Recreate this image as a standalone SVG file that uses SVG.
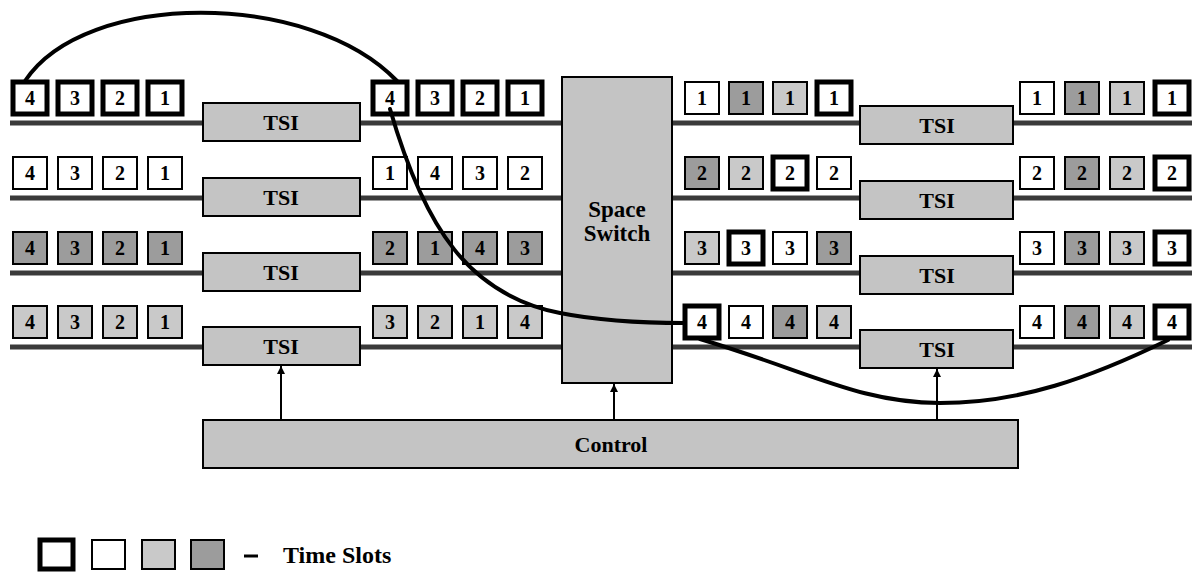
<svg xmlns="http://www.w3.org/2000/svg" width="1192" height="581" viewBox="0 0 1192 581">
<style>
.thick{fill:#fff;stroke:#000;stroke-width:5}
.thin{fill:#fff;stroke:#000;stroke-width:2}
.lt{fill:#c9c9c9;stroke:#000;stroke-width:2}
.dk{fill:#9c9c9c;stroke:#000;stroke-width:2}
.dg{font-family:"Liberation Serif",serif;font-weight:bold;font-size:20px;text-anchor:middle;fill:#000}
.blk{fill:#c4c4c4;stroke:#000;stroke-width:2}
.lbl{font-family:"Liberation Serif",serif;font-weight:bold;font-size:22px;text-anchor:middle;fill:#000}
.bus{stroke:#3a3a3a;stroke-width:5}
.cv{fill:none;stroke:#000;stroke-width:4;stroke-linecap:round}
.ctl{stroke:#000;stroke-width:2;marker-end:url(#ah)}
</style>
<defs>
<marker id="ah" markerUnits="userSpaceOnUse" markerWidth="8" markerHeight="10" refX="8" refY="4" orient="auto">
<path d="M0,0 L8,4 L0,8 Z" fill="#000"/>
</marker>
</defs>
<rect width="1192" height="581" fill="#fff"/>
<g id="buses">
<line class="bus" x1="10" y1="123" x2="1192" y2="123"/>
<line class="bus" x1="10" y1="198" x2="1192" y2="198"/>
<line class="bus" x1="10" y1="273" x2="1192" y2="273"/>
<line class="bus" x1="10" y1="347" x2="1192" y2="347"/>
</g>
<g id="tsi-l1"><rect class="blk" x="203" y="103" width="157" height="38"/><text class="lbl" x="281" y="130">TSI</text></g>
<g id="tsi-l2"><rect class="blk" x="203" y="178" width="157" height="38"/><text class="lbl" x="281" y="205">TSI</text></g>
<g id="tsi-l3"><rect class="blk" x="203" y="253" width="157" height="38"/><text class="lbl" x="281" y="280">TSI</text></g>
<g id="tsi-l4"><rect class="blk" x="203" y="327" width="157" height="38"/><text class="lbl" x="281" y="354">TSI</text></g>
<g id="tsi-r1"><rect class="blk" x="860" y="106" width="153" height="38"/><text class="lbl" x="937" y="133">TSI</text></g>
<g id="tsi-r2"><rect class="blk" x="860" y="181" width="153" height="38"/><text class="lbl" x="937" y="208">TSI</text></g>
<g id="tsi-r3"><rect class="blk" x="860" y="256" width="153" height="38"/><text class="lbl" x="937" y="283">TSI</text></g>
<g id="tsi-r4"><rect class="blk" x="860" y="330" width="153" height="38"/><text class="lbl" x="937" y="357">TSI</text></g>
<g id="space-switch"><rect class="blk" x="562" y="77" width="110" height="306"/><text class="lbl" x="617" y="217" style="font-size:23px">Space</text><text class="lbl" x="617" y="241" style="font-size:23px">Switch</text></g>
<g id="control"><rect class="blk" x="203" y="420" width="815" height="48"/><text class="lbl" x="611" y="452">Control</text></g>

<g id="slots-row1">
<rect class="thick" x="13" y="82" width="34" height="32"/><text class="dg" x="30" y="105">4</text>
<rect class="thick" x="58" y="82" width="34" height="32"/><text class="dg" x="75" y="105">3</text>
<rect class="thick" x="103" y="82" width="34" height="32"/><text class="dg" x="120" y="105">2</text>
<rect class="thick" x="148" y="82" width="34" height="32"/><text class="dg" x="165" y="105">1</text>
<rect class="thick" x="373" y="82" width="34" height="32"/><text class="dg" x="390" y="105">4</text>
<rect class="thick" x="418" y="82" width="34" height="32"/><text class="dg" x="435" y="105">3</text>
<rect class="thick" x="463" y="82" width="34" height="32"/><text class="dg" x="480" y="105">2</text>
<rect class="thick" x="508" y="82" width="34" height="32"/><text class="dg" x="525" y="105">1</text>
<rect class="thin" x="685" y="82" width="34" height="32"/><text class="dg" x="702" y="105">1</text>
<rect class="dk" x="729" y="82" width="34" height="32"/><text class="dg" x="746" y="105">1</text>
<rect class="lt" x="773" y="82" width="34" height="32"/><text class="dg" x="790" y="105">1</text>
<rect class="thick" x="817" y="82" width="34" height="32"/><text class="dg" x="834" y="105">1</text>
<rect class="thin" x="1020" y="82" width="34" height="32"/><text class="dg" x="1037" y="105">1</text>
<rect class="dk" x="1065" y="82" width="34" height="32"/><text class="dg" x="1082" y="105">1</text>
<rect class="lt" x="1110" y="82" width="34" height="32"/><text class="dg" x="1127" y="105">1</text>
<rect class="thick" x="1155" y="82" width="34" height="32"/><text class="dg" x="1172" y="105">1</text>
</g>
<g id="slots-row2">
<rect class="thin" x="13" y="157" width="34" height="32"/><text class="dg" x="30" y="180">4</text>
<rect class="thin" x="58" y="157" width="34" height="32"/><text class="dg" x="75" y="180">3</text>
<rect class="thin" x="103" y="157" width="34" height="32"/><text class="dg" x="120" y="180">2</text>
<rect class="thin" x="148" y="157" width="34" height="32"/><text class="dg" x="165" y="180">1</text>
<rect class="thin" x="373" y="157" width="34" height="32"/><text class="dg" x="390" y="180">1</text>
<rect class="thin" x="418" y="157" width="34" height="32"/><text class="dg" x="435" y="180">4</text>
<rect class="thin" x="463" y="157" width="34" height="32"/><text class="dg" x="480" y="180">3</text>
<rect class="thin" x="508" y="157" width="34" height="32"/><text class="dg" x="525" y="180">2</text>
<rect class="dk" x="685" y="157" width="34" height="32"/><text class="dg" x="702" y="180">2</text>
<rect class="lt" x="729" y="157" width="34" height="32"/><text class="dg" x="746" y="180">2</text>
<rect class="thick" x="773" y="157" width="34" height="32"/><text class="dg" x="790" y="180">2</text>
<rect class="thin" x="817" y="157" width="34" height="32"/><text class="dg" x="834" y="180">2</text>
<rect class="thin" x="1020" y="157" width="34" height="32"/><text class="dg" x="1037" y="180">2</text>
<rect class="dk" x="1065" y="157" width="34" height="32"/><text class="dg" x="1082" y="180">2</text>
<rect class="lt" x="1110" y="157" width="34" height="32"/><text class="dg" x="1127" y="180">2</text>
<rect class="thick" x="1155" y="157" width="34" height="32"/><text class="dg" x="1172" y="180">2</text>
</g>
<g id="slots-row3">
<rect class="dk" x="13" y="232" width="34" height="32"/><text class="dg" x="30" y="255">4</text>
<rect class="dk" x="58" y="232" width="34" height="32"/><text class="dg" x="75" y="255">3</text>
<rect class="dk" x="103" y="232" width="34" height="32"/><text class="dg" x="120" y="255">2</text>
<rect class="dk" x="148" y="232" width="34" height="32"/><text class="dg" x="165" y="255">1</text>
<rect class="dk" x="373" y="232" width="34" height="32"/><text class="dg" x="390" y="255">2</text>
<rect class="dk" x="418" y="232" width="34" height="32"/><text class="dg" x="435" y="255">1</text>
<rect class="dk" x="463" y="232" width="34" height="32"/><text class="dg" x="480" y="255">4</text>
<rect class="dk" x="508" y="232" width="34" height="32"/><text class="dg" x="525" y="255">3</text>
<rect class="lt" x="685" y="232" width="34" height="32"/><text class="dg" x="702" y="255">3</text>
<rect class="thick" x="729" y="232" width="34" height="32"/><text class="dg" x="746" y="255">3</text>
<rect class="thin" x="773" y="232" width="34" height="32"/><text class="dg" x="790" y="255">3</text>
<rect class="dk" x="817" y="232" width="34" height="32"/><text class="dg" x="834" y="255">3</text>
<rect class="thin" x="1020" y="232" width="34" height="32"/><text class="dg" x="1037" y="255">3</text>
<rect class="dk" x="1065" y="232" width="34" height="32"/><text class="dg" x="1082" y="255">3</text>
<rect class="lt" x="1110" y="232" width="34" height="32"/><text class="dg" x="1127" y="255">3</text>
<rect class="thick" x="1155" y="232" width="34" height="32"/><text class="dg" x="1172" y="255">3</text>
</g>
<g id="slots-row4">
<rect class="lt" x="13" y="306" width="34" height="32"/><text class="dg" x="30" y="329">4</text>
<rect class="lt" x="58" y="306" width="34" height="32"/><text class="dg" x="75" y="329">3</text>
<rect class="lt" x="103" y="306" width="34" height="32"/><text class="dg" x="120" y="329">2</text>
<rect class="lt" x="148" y="306" width="34" height="32"/><text class="dg" x="165" y="329">1</text>
<rect class="lt" x="373" y="306" width="34" height="32"/><text class="dg" x="390" y="329">3</text>
<rect class="lt" x="418" y="306" width="34" height="32"/><text class="dg" x="435" y="329">2</text>
<rect class="lt" x="463" y="306" width="34" height="32"/><text class="dg" x="480" y="329">1</text>
<rect class="lt" x="508" y="306" width="34" height="32"/><text class="dg" x="525" y="329">4</text>
<rect class="thick" x="685" y="306" width="34" height="32"/><text class="dg" x="702" y="329">4</text>
<rect class="thin" x="729" y="306" width="34" height="32"/><text class="dg" x="746" y="329">4</text>
<rect class="dk" x="773" y="306" width="34" height="32"/><text class="dg" x="790" y="329">4</text>
<rect class="lt" x="817" y="306" width="34" height="32"/><text class="dg" x="834" y="329">4</text>
<rect class="thin" x="1020" y="306" width="34" height="32"/><text class="dg" x="1037" y="329">4</text>
<rect class="dk" x="1065" y="306" width="34" height="32"/><text class="dg" x="1082" y="329">4</text>
<rect class="lt" x="1110" y="306" width="34" height="32"/><text class="dg" x="1127" y="329">4</text>
<rect class="thick" x="1155" y="306" width="34" height="32"/><text class="dg" x="1172" y="329">4</text>
</g>

<g id="connectors">
<path class="cv" d="M25,81 C85,-10 310,-10 397,81"/>
<path class="cv" d="M390,109 C425,230 470,295 560,313 C600,321 650,323 685,323"/>
<path class="cv" d="M700,339 C810,372 860,403 940,403 C1020,403 1090,378 1168,340"/>
<line class="ctl" x1="281" y1="420" x2="281" y2="366"/>
<line class="ctl" x1="614" y1="420" x2="614" y2="384"/>
<line class="ctl" x1="937" y1="420" x2="937" y2="369"/>
</g>

<g id="legend">
<rect class="thick" x="40" y="540" width="33" height="29"/>
<rect class="thin" x="92" y="540" width="33" height="29"/>
<rect class="lt" x="142" y="540" width="33" height="29"/>
<rect class="dk" x="191" y="540" width="33" height="29"/>
<line x1="244" y1="556" x2="258" y2="556" stroke="#000" stroke-width="3"/>
<text x="283" y="563" style="font-family:'Liberation Serif',serif;font-weight:bold;font-size:24px">Time Slots</text>
</g>
</svg>
